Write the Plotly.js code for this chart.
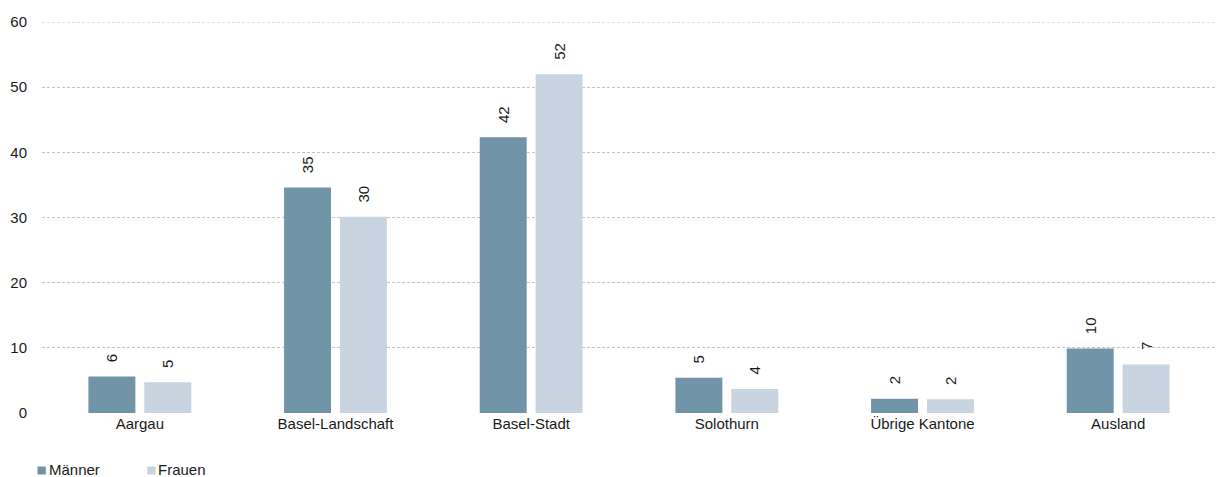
<!DOCTYPE html>
<html>
<head>
<meta charset="utf-8">
<script src="https://cdn.plot.ly/plotly-3.0.1.min.js"></script>
<style>
  html, body { margin: 0; padding: 0; background: #fff; }
  #chart { width: 1216px; height: 477px; }
</style>
</head>
<body>
<div id="chart"></div>
<script>
// Herkunft nach Kanton, Anteile in Prozent
const categories = ['Aargau', 'Basel-Landschaft', 'Basel-Stadt', 'Solothurn', 'Übrige Kantone', 'Ausland'];
const maenner = [5.6, 34.6, 42.3, 5.4, 2.2, 9.9];
const frauen = [4.7, 30.1, 52.0, 3.7, 2.1, 7.45];
const seriesNames = ['Männer', 'Frauen'];
const seriesColors = ['#7194a8', '#c8d4df'];
const yTicks = [0, 10, 20, 30, 40, 50, 60];

const FONT = 'Liberation Sans, Arial, sans-serif';
const FS = 15;
// leading spacing lifts the rotated value labels a little above the bars
const PAD = '\u00a0\u00a0\u2009';

function barTrace(name, values, color) {
  return {
    type: 'bar',
    name: name,
    x: categories,
    y: values,
    marker: { color: color, line: { width: 0 } },
    texttemplate: PAD + '%{y:.0f}',
    textposition: 'outside',
    textangle: -90,
    constraintext: 'none',
    cliponaxis: false,
    textfont: { family: FONT, size: FS, color: '#1a1a1a' },
    hoverinfo: 'x+y+name'
  };
}

const data = [
  barTrace(seriesNames[0], maenner, seriesColors[0]),
  barTrace(seriesNames[1], frauen, seriesColors[1])
];

// Legend drawn as swatches plus labels below the plot
const L = 42, W = 1174, T = 22, H = 391;
const px = v => (v - L) / W;
const py = v => 1 - (v - T) / H;
const legendX = [37.5, 147.3];
const legendY = 470.5;
const shapes = [];
const annotations = [];
seriesNames.forEach((n, i) => {
  shapes.push({
    type: 'rect', xref: 'paper', yref: 'paper',
    x0: px(legendX[i]), x1: px(legendX[i] + 8.3),
    y0: py(legendY + 4), y1: py(legendY - 4),
    fillcolor: seriesColors[i], line: { width: 0 }
  });
  annotations.push({
    xref: 'paper', yref: 'paper',
    x: px(legendX[i] + 10), y: py(legendY - 1.5),
    xanchor: 'left', yanchor: 'middle',
    borderpad: 0,
    text: n, showarrow: false,
    font: { family: FONT, size: 15, color: '#1a1a1a' }
  });
});

// dashed line at the top of the value range
shapes.push({
  type: 'line', xref: 'paper', yref: 'y',
  x0: 0, x1: 1, y0: yTicks[yTicks.length - 1], y1: yTicks[yTicks.length - 1],
  line: { color: '#c4c4c4', width: 1, dash: '3px,2px' }
});

const layout = {
  width: 1216,
  height: 477,
  margin: { l: L, r: 0, t: T, b: 477 - T - H },
  paper_bgcolor: '#ffffff',
  plot_bgcolor: '#ffffff',
  barmode: 'group',
  bargap: 0.4286,
  bargroupgap: 0.16,
  showlegend: false,
  font: { family: FONT, size: FS, color: '#1a1a1a' },
  xaxis: {
    type: 'category',
    showgrid: false,
    showline: false,
    zeroline: false,
    ticks: '',
    tickfont: { family: FONT, size: FS, color: '#1a1a1a' }
  },
  yaxis: {
    range: [0, 60],
    tickvals: yTicks,
    ticktext: yTicks.map(String),
    showgrid: true,
    gridcolor: '#c4c4c4',
    gridwidth: 1,
    griddash: '3px,2px',
    zeroline: false,
    showline: false,
    ticks: 'outside',
    ticklen: 11,
    tickcolor: 'rgba(0,0,0,0)',
    tickfont: { family: FONT, size: FS, color: '#1a1a1a' }
  },
  shapes: shapes,
  annotations: annotations
};

Plotly.newPlot('chart', data, layout, { displayModeBar: false, staticPlot: true });
</script>
</body>
</html>
